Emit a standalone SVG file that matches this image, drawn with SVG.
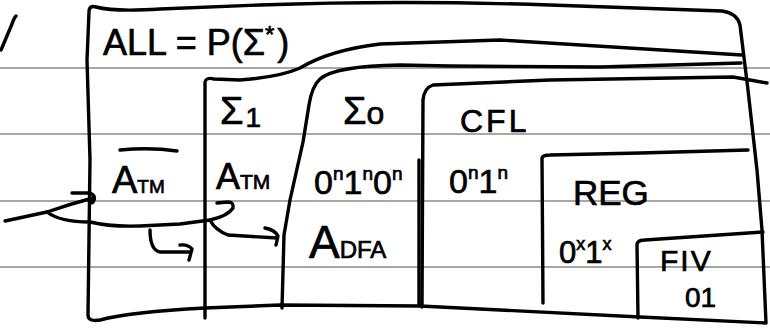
<svg xmlns="http://www.w3.org/2000/svg" width="770" height="330" viewBox="0 0 770 330">
<style>
.rule{stroke:#8a8a8a;stroke-width:1.6;fill:none}
.ink{stroke:#000;stroke-width:3.4;fill:none;stroke-linecap:round;stroke-linejoin:round}
.t{font-family:"Liberation Sans",Arial,sans-serif;fill:#000;stroke:#000;stroke-width:0.7}
</style>
<rect width="770" height="330" fill="#fff"/>
<g id="ruled-lines">
<line class="rule" x1="0" y1="68" x2="770" y2="68"/>
<line class="rule" x1="0" y1="134" x2="770" y2="134"/>
<line class="rule" x1="0" y1="201" x2="770" y2="201"/>
<line class="rule" x1="0" y1="267" x2="770" y2="267"/>
</g>
<g id="mark">
<path class="ink" d="M1,50 L12,24 Q14,18 16,16"/>
</g>
<g id="ALL">
<path class="ink" d="M89,12 Q89,5 96,7 Q115,12 160,9 L260,5 Q400,0 550,5 L722,11 Q737,13 740,25 L748,90 L757,170 L762,230 L766,323 L640,317 L420,306 L280,305 L205,308 Q130,312 100,320 Q88,322 88,315 L90,160 L87,60 Z"/>
<text class="t" x="103" y="55" font-size="36">ALL = P(Σ<tspan dy="-12" font-size="24">*</tspan><tspan dx="3" dy="12">)</tspan></text>
<text class="t" x="112" y="193" font-size="38">A<tspan font-size="19">TM</tspan></text>
<path class="ink" d="M120,150 Q150,147 177,151"/>
</g>
<g id="Sigma1">
<path class="ink" d="M205,318 L205,82 Q206,77 214,79 L240,80 Q280,77 300,68 Q330,50 380,44 L500,40 L742,55"/>
<text class="t" x="220" y="124" font-size="38">Σ<tspan dx="2" dy="3" font-size="28">1</tspan></text>
<text class="t" x="216" y="189" font-size="36">A<tspan font-size="21">TM</tspan></text>
</g>
<g id="Sigma0">
<path class="ink" d="M741,63 L600,67 L450,66 L400,65 Q335,66 320,79 Q312,86 309,105 L303,142 L290,200 L284,235 L282,308"/>
<text class="t" x="343" y="124" font-size="38">Σ<tspan font-size="32">o</tspan></text>
<text class="t" x="314" y="194" font-size="34">0<tspan dy="-14" font-size="19">n</tspan><tspan dy="14">1</tspan><tspan dy="-14" font-size="19">n</tspan><tspan dy="14">0</tspan><tspan dy="-14" font-size="19">n</tspan></text>
<text class="t" x="309" y="258" font-size="46">A<tspan font-size="24">DFA</tspan></text>
</g>
<g id="CFL">
<path class="ink" d="M422,307 L423,100 Q424,88 433,85 L550,80 L733,77 L767,83"/>
<path class="ink" d="M419,160 L419,305" stroke-width="2"/>
<text class="t" x="460" y="132" font-size="32" letter-spacing="3">CFL</text>
<text class="t" x="449" y="193" font-size="34">0<tspan dy="-14" font-size="19">n</tspan><tspan dy="14">1</tspan><tspan dy="-14" font-size="19">n</tspan></text>
</g>
<g id="REG">
<path class="ink" d="M543,303 L542,158 Q543,155 550,155 L640,153 L748,150"/>
<text class="t" x="573" y="205" font-size="35">REG</text>
<text class="t" x="559" y="263" font-size="31">0<tspan dy="-13" font-size="18">x</tspan><tspan dy="13">1</tspan><tspan dy="-13" font-size="18">x</tspan></text>
</g>
<g id="FIV">
<path class="ink" d="M638,318 L637,244 Q638,240 645,240 L763,232"/>
<text class="t" x="660" y="271" font-size="30" letter-spacing="2">FIV</text>
<text class="t" x="685" y="307" font-size="28">01</text>
</g>
<g id="connectors">
<path class="ink" d="M5,221 L47,212 Q70,204 93,198"/>
<path class="ink" d="M72,193 L90,193 Q97,196 93,202 Q90,205 90,198"/>
<path class="ink" d="M47,212 Q60,222 90,222 Q110,227 140,226 L180,224 L210,220 Q228,216 233,208 Q234,202 228,202 L217,203"/>
<path class="ink" d="M210,220 Q215,230 228,235 L277,238 M265,228 Q275,230 278,236 L276,245"/>
<path class="ink" d="M150,230 Q150,250 160,252 L190,252 M180,245 Q188,244 192,249 L189,260"/>
</g>
</svg>
